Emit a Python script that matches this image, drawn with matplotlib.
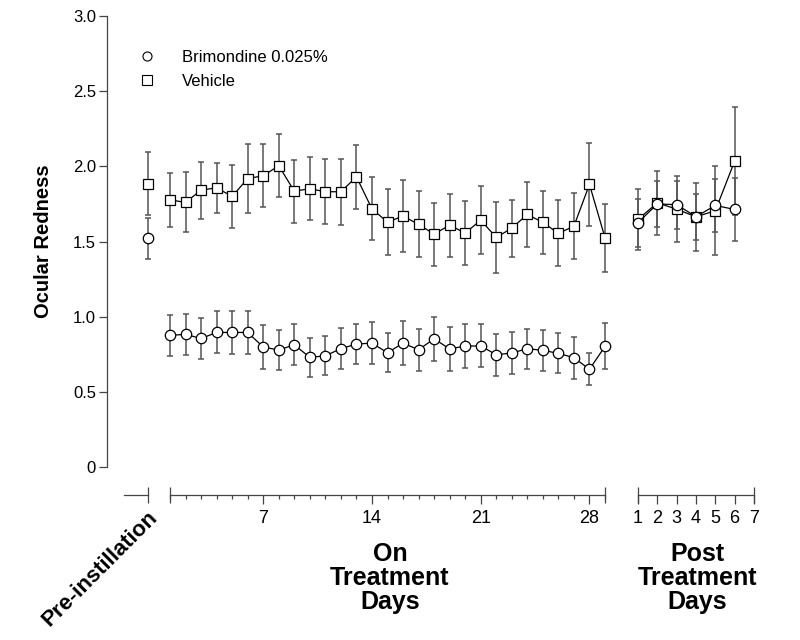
import numpy as np
import matplotlib
matplotlib.use("Agg")
import matplotlib.pyplot as plt
from matplotlib.lines import Line2D

plt.rcParams['font.family'] = ['Liberation Sans', 'DejaVu Sans']

# ---------------- data ----------------
series_names = ["Brimondine 0.025%", "Vehicle"]

pre_pos = [0]
pre_brim = [1.52]
pre_brim_err = [0.135]
pre_veh = [1.885]
pre_veh_err = [0.21]

on_days = list(range(1, 30))
on_tick_days = [7, 14, 21, 28]
brim_on = [0.876, 0.882, 0.855, 0.895, 0.895, 0.895, 0.798, 0.778, 0.813, 0.729,
           0.740, 0.787, 0.818, 0.824, 0.760, 0.824, 0.780, 0.853, 0.785, 0.805,
           0.805, 0.747, 0.758, 0.787, 0.776, 0.756, 0.727, 0.650, 0.802]
brim_on_err = [0.135, 0.134, 0.135, 0.14, 0.145, 0.145, 0.144, 0.13, 0.135, 0.132,
               0.13, 0.135, 0.135, 0.142, 0.13, 0.144, 0.14, 0.148, 0.145, 0.148,
               0.143, 0.14, 0.14, 0.134, 0.137, 0.133, 0.14, 0.107, 0.153]
veh_on = [1.777, 1.760, 1.842, 1.857, 1.800, 1.919, 1.937, 2.004, 1.835, 1.851,
          1.831, 1.831, 1.930, 1.717, 1.629, 1.669, 1.614, 1.549, 1.609, 1.556,
          1.642, 1.527, 1.589, 1.680, 1.627, 1.554, 1.602, 1.880, 1.525]
veh_on_err = [0.18, 0.2, 0.19, 0.165, 0.21, 0.23, 0.21, 0.21, 0.21, 0.21,
              0.215, 0.22, 0.215, 0.21, 0.22, 0.24, 0.22, 0.21, 0.21, 0.215,
              0.225, 0.235, 0.19, 0.215, 0.207, 0.22, 0.22, 0.275, 0.225]

post_days = [1, 2, 3, 4, 5, 6]
post_tick_days = [1, 2, 3, 4, 5, 6, 7]
brim_post = [1.625, 1.75, 1.745, 1.665, 1.74, 1.713]
brim_post_err = [0.16, 0.155, 0.16, 0.153, 0.175, 0.21]
veh_post = [1.647, 1.757, 1.715, 1.664, 1.705, 2.035]
veh_post_err = [0.205, 0.213, 0.22, 0.224, 0.295, 0.36]

y_ticks = [0, 0.5, 1.0, 1.5, 2.0, 2.5, 3.0]
y_ticklabels = ["0", "0.5", "1.0", "1.5", "2.0", "2.5", "3.0"]

# ---------------- layout ----------------
W, H = 800, 640
fig = plt.figure(figsize=(W / 100, H / 100), dpi=100)
AX_COL = '#444444'
ERR_COL = '#555555'

y_top_px, y_bot_px = 16, 467
b = 1 - y_bot_px / H
h = (y_bot_px - y_top_px) / H
OUT_PT = 28 * 72 / 100  # bottom axis offset


def px_rect(x0, x1):
    return [x0 / W, b, (x1 - x0) / W, h]


ax_main = fig.add_axes(px_rect(107, 765))
ax_main.set_ylim(0, 3)
ax_main.set_xlim(0, 1)
ax_main.patch.set_visible(False)
for s in ['top', 'right', 'bottom']:
    ax_main.spines[s].set_visible(False)
ax_main.spines['left'].set_color(AX_COL)
ax_main.spines['left'].set_linewidth(0.9)
ax_main.set_xticks([])
ax_main.set_yticks(y_ticks)
ax_main.set_yticklabels(y_ticklabels)
ax_main.tick_params(axis='y', direction='out', length=6, width=0.9, color=AX_COL,
                    labelsize=12, pad=2)
ax_main.set_ylabel("Ocular Redness", fontsize=14.5, fontweight='bold', labelpad=14)


def seg_axes(x0, x1, xlim):
    ax = fig.add_axes(px_rect(x0, x1), sharey=ax_main)
    ax.patch.set_visible(False)
    for s in ['top', 'right', 'left']:
        ax.spines[s].set_visible(False)
    ax.spines['bottom'].set_position(('outward', OUT_PT))
    ax.spines['bottom'].set_color(AX_COL)
    ax.spines['bottom'].set_linewidth(0.9)
    ax.tick_params(axis='y', left=False, labelleft=False)
    ax.set_xlim(*xlim)
    return ax


def end_caps(ax, ends):
    tw = ax.twiny()
    tw.set_xlim(ax.get_xlim())
    for s in tw.spines.values():
        s.set_visible(False)
    tw.spines['bottom'].set_position(('outward', OUT_PT))
    tw.xaxis.set_ticks_position('bottom')
    tw.set_xticks(ends)
    tw.tick_params(axis='x', direction='inout', length=12, width=0.9, color=AX_COL,
                   labelbottom=False, labeltop=False, top=False, bottom=True)
    tw.tick_params(axis='y', left=False, right=False, labelleft=False, labelright=False)
    tw.patch.set_visible(False)
    return tw


def draw(ax, x, yb, eb, yv, ev):
    ekw = dict(fmt='none', ecolor=ERR_COL, elinewidth=1.1, capsize=2.3,
               capthick=1.1, zorder=1, clip_on=False)
    ax.errorbar(x, yv, yerr=ev, **ekw)
    ax.errorbar(x, yb, yerr=eb, **ekw)
    mkw = dict(color='black', lw=0.9, markersize=7.5, markerfacecolor='white',
               markeredgecolor='black', markeredgewidth=0.9, clip_on=False)
    ax.plot(x, yv, marker='s', zorder=3, **mkw)
    ax.plot(x, yb, marker='o', zorder=4, **mkw)


# Pre-instillation
ax_pre = seg_axes(124, 148, (-24 / 15.5, 0))
ax_pre.set_xticks(pre_pos)
ax_pre.tick_params(axis='x', direction='inout', length=12, width=0.9, color=AX_COL,
                   labelbottom=False)
draw(ax_pre, pre_pos, pre_brim, pre_brim_err, pre_veh, pre_veh_err)

# On treatment
ax_on = seg_axes(170, 605, (on_days[0], on_days[-1]))
ax_on.set_xticks(on_tick_days)
ax_on.set_xticklabels([str(d) for d in on_tick_days])
ax_on.set_xticks(on_days, minor=True)
ax_on.tick_params(axis='x', which='major', direction='out', length=6.5, width=0.9,
                  color=AX_COL, labelsize=13, pad=4.5)
ax_on.tick_params(axis='x', which='minor', direction='out', length=3, width=0.9,
                  color=AX_COL)
end_caps(ax_on, [on_days[0], on_days[-1]])
draw(ax_on, on_days, brim_on, brim_on_err, veh_on, veh_on_err)

# Post treatment
ax_post = seg_axes(638, 754, (post_tick_days[0], post_tick_days[-1]))
ax_post.set_xticks(post_tick_days)
ax_post.set_xticklabels([str(d) for d in post_tick_days])
ax_post.tick_params(axis='x', which='major', direction='out', length=6.5, width=0.9,
                    color=AX_COL, labelsize=13, pad=4.5)
end_caps(ax_post, [post_tick_days[0], post_tick_days[-1]])
draw(ax_post, post_days, brim_post, brim_post_err, veh_post, veh_post_err)

# Legend
handles = [Line2D([], [], ls='none', marker='o', markersize=6.5, markerfacecolor='white',
                  markeredgecolor='black', markeredgewidth=0.8),
           Line2D([], [], ls='none', marker='s', markersize=6.5, markerfacecolor='white',
                  markeredgecolor='black', markeredgewidth=0.8)]
fig.legend(handles, series_names, loc='upper left',
           bbox_to_anchor=(139 / W, 1 - 50 / H), bbox_transform=fig.transFigure,
           frameon=False, fontsize=12, handlelength=1.0, handletextpad=1.6,
           labelspacing=0.55, borderpad=0, borderaxespad=0, numpoints=1)

# Group labels
fig.text(154 / W, 1 - 514 / H, "Pre-instillation", rotation=45, rotation_mode='anchor',
         ha='right', va='center', fontsize=16, fontweight='bold')
fig.text(390 / W, 1 - 578 / H, "On\nTreatment\nDays", ha='center', va='center',
         fontsize=18, fontweight='bold', linespacing=1.0)
fig.text(697 / W, 1 - 578 / H, "Post\nTreatment\nDays", ha='center', va='center',
         fontsize=18, fontweight='bold', linespacing=1.0)

fig.savefig("out.png", dpi=100)
